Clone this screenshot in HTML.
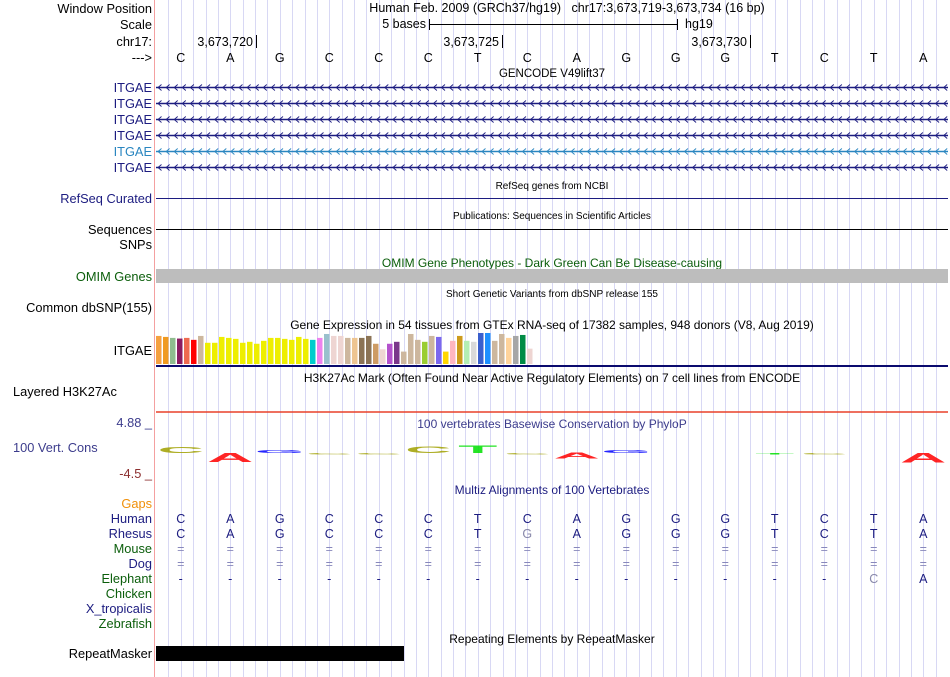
<!DOCTYPE html>
<html><head><meta charset="utf-8"><style>
html,body{margin:0;padding:0;background:#fff;}
svg{display:block;font-family:"Liberation Sans",sans-serif;}
</style></head><body>
<svg id="c" width="950" height="677" viewBox="0 0 950 677" xmlns="http://www.w3.org/2000/svg">
<g id="grid"></g>
<line x1="154.5" y1="0" x2="154.5" y2="677" stroke="#f4a0a0" stroke-width="1"/>
<g id="labels" font-size="12.8" text-anchor="end">
<text x="152" y="13" fill="#000">Window Position</text>
<text x="152" y="29" fill="#000">Scale</text>
<text x="152" y="46" fill="#000">chr17:</text>
<text x="152" y="62" fill="#000">---&gt;</text>
<text x="152" y="92" fill="#1c1c80">ITGAE</text>
<text x="152" y="108" fill="#1c1c80">ITGAE</text>
<text x="152" y="124" fill="#1c1c80">ITGAE</text>
<text x="152" y="140" fill="#1c1c80">ITGAE</text>
<text x="152" y="156" fill="#2a86c0">ITGAE</text>
<text x="152" y="172" fill="#1c1c80">ITGAE</text>
<text x="152" y="203" fill="#1c1c80">RefSeq Curated</text>
<text x="152" y="234" fill="#000">Sequences</text>
<text x="152" y="249" fill="#000">SNPs</text>
<text x="152" y="281" fill="#0b5e0b">OMIM Genes</text>
<text x="152" y="312" fill="#000">Common dbSNP(155)</text>
<text x="152" y="355" fill="#000">ITGAE</text>
<text x="13" y="396" text-anchor="start" fill="#000">Layered H3K27Ac</text>
<text x="152" y="427" fill="#3c3c8c">4.88 _</text>
<text x="13" y="452" text-anchor="start" fill="#3c3c8c">100 Vert. Cons</text>
<text x="152" y="478" fill="#8c2f2f">-4.5 _</text>
<text x="152" y="508" fill="#f0900a">Gaps</text>
<text x="152" y="523" fill="#1c1c80">Human</text>
<text x="152" y="538" fill="#1c1c80">Rhesus</text>
<text x="152" y="553" fill="#0b5e0b">Mouse</text>
<text x="152" y="568" fill="#1c1c80">Dog</text>
<text x="152" y="583" fill="#0b5e0b">Elephant</text>
<text x="152" y="598" fill="#0b5e0b">Chicken</text>
<text x="152" y="613" fill="#1c1c80">X_tropicalis</text>
<text x="152" y="628" fill="#0b5e0b">Zebrafish</text>
<text x="152" y="658" fill="#000">RepeatMasker</text>
</g>
<g font-size="12.5" text-anchor="middle">
<text x="567" y="12" fill="#000">Human Feb. 2009 (GRCh37/hg19)&#160;&#160;&#160;chr17:3,673,719-3,673,734 (16 bp)</text>
<text x="426" y="28" text-anchor="end">5 bases</text>
<line x1="429.5" y1="19" x2="429.5" y2="30" stroke="#000"/>
<line x1="429" y1="24.5" x2="677" y2="24.5" stroke="#000"/>
<line x1="677.5" y1="19" x2="677.5" y2="30" stroke="#000"/>
<text x="685" y="28" text-anchor="start">hg19</text>
<text x="253" y="46" text-anchor="end">3,673,720</text>
<line x1="256.5" y1="35" x2="256.5" y2="48" stroke="#000"/>
<text x="499" y="46" text-anchor="end">3,673,725</text>
<line x1="502.5" y1="35" x2="502.5" y2="48" stroke="#000"/>
<text x="747" y="46" text-anchor="end">3,673,730</text>
<line x1="750.5" y1="35" x2="750.5" y2="48" stroke="#000"/>
</g>
<g id="bases" font-size="12.5" text-anchor="middle"></g>
<g font-size="11.5" text-anchor="middle" fill="#000">
<text x="552" y="77">GENCODE V49lift37</text>
<text x="552" y="189" font-size="10">RefSeq genes from NCBI</text>
<text x="552" y="219" font-size="10">Publications: Sequences in Scientific Articles</text>
<text x="552" y="267" fill="#0b5e0b" font-size="12">OMIM Gene Phenotypes - Dark Green Can Be Disease-causing</text>
<text x="552" y="297" font-size="10">Short Genetic Variants from dbSNP release 155</text>
<text x="552" y="329" font-size="12">Gene Expression in 54 tissues from GTEx RNA-seq of 17382 samples, 948 donors (V8, Aug 2019)</text>
<text x="552" y="382" font-size="12">H3K27Ac Mark (Often Found Near Active Regulatory Elements) on 7 cell lines from ENCODE</text>
<text x="552" y="428" fill="#3c3c8c" font-size="12">100 vertebrates Basewise Conservation by PhyloP</text>
<text x="552" y="494" fill="#1c1c80" font-size="12">Multiz Alignments of 100 Vertebrates</text>
<text x="552" y="643" font-size="12">Repeating Elements by RepeatMasker</text>
</g>
<g id="genes"></g>
<line x1="156" y1="198.5" x2="948" y2="198.5" stroke="#1c1c80"/>
<line x1="156" y1="229.5" x2="948" y2="229.5" stroke="#000"/>
<rect x="156" y="269" width="792" height="14" fill="#bdbdbd"/>
<g id="gtex"></g>
<line x1="156" y1="366" x2="948" y2="366" stroke="#0a0a6e" stroke-width="2"/>
<line x1="156" y1="412" x2="948" y2="412" stroke="#e8402a" stroke-width="1.5"/>
<g id="cons"></g>
<g id="multiz" font-size="12.5" text-anchor="middle"></g>
<rect x="156" y="646" width="248" height="15" fill="#000"/>
<script>
const NS='http://www.w3.org/2000/svg';
const refBases=['C','A','G','C','C','C','T','C','A','G','G','G','T','C','T','A'];
const rhesusBases=['C','A','G','C','C','C','T','G','A','G','G','G','T','C','T','A'];
const elephantBases=['-','-','-','-','-','-','-','-','-','-','-','-','-','-','C','A'];
const phyloP=[1.2,-1.8,0.6,-0.3,-0.2,1.3,1.6,-0.2,-1.1,0.6,0,0,-0.3,-0.2,0,-1.9];
const gtexValues=[86,83,80,78,80,74,86,65,65,83,80,77,65,68,62,71,80,80,77,74,83,77,74,80,92,86,86,80,80,80,86,62,45,62,68,38,92,74,68,86,83,38,71,86,71,68,95,95,71,92,80,86,89,47];
const gtexColors=['#f5a040','#f09a20','#8fbc8f','#8b1c62','#ee6a50','#ff0000','#cdb79e','#eeee00','#eeee00','#eeee00','#eeee00','#eeee00','#eeee00','#eeee00','#eeee00','#eeee00','#eeee00','#eeee00','#eeee00','#eeee00','#eeee00','#eeee00','#00cdcd','#ee82ee','#9ac0cd','#eed5d2','#eed5d2','#cdb79e','#eec591','#8b7355','#8b7355','#cd9b64','#eed5d2','#b452cd','#7a378b','#cdb79e','#cdb79e','#cdb79e','#9acd32','#cdb79e','#7b68ee','#ffd700','#ffb6c1','#cd9b1d','#b4eeb4','#d9d9d9','#3a5fcd','#1e90ff','#cdb79e','#cdb79e','#ffd39b','#a6a6a6','#008b45','#eed5d2','#eed5d2','#ff00ff'];
const X0=156,BW=49.5;
const bx=i=>X0+BW*(i+0.5);
function mk(tag,attrs,parent){const e=document.createElementNS(NS,tag);for(const k in attrs)e.setAttribute(k,attrs[k]);parent.appendChild(e);return e;}
const grid=document.getElementById('grid');
for(let k=1;k<64;k++){const x=Math.round(X0+k*12.375)+0.5;const l=mk('line',{x1:x,y1:0,x2:x,y2:677,stroke:'#d8d8f4'},grid);

}
const bases=document.getElementById('bases');
refBases.forEach((b,i)=>{const t=mk('text',{x:bx(i),y:62},bases);t.textContent=b;

});
const genes=document.getElementById('genes');
[87,103,119,135,151,167].forEach((y,i)=>{const col=i===4?'#2a86c0':'#1c1c80';
const g=mk('g',{},genes);


const yy=y+0.5;
mk('line',{x1:156,y1:yy,x2:948,y2:yy,stroke:col,'stroke-width':1.5},g);
let d='';for(let x=158;x<946;x+=8.1){d+=`M${(x+3.5).toFixed(1)} ${yy-3}L${x.toFixed(1)} ${yy}L${(x+3.5).toFixed(1)} ${yy+3}`;}
mk('path',{d:d,fill:'none',stroke:col,'stroke-width':0.9},g);});
const gtex=document.getElementById('gtex');
const gmax=95, gh=31, base=364;
gtexValues.forEach((v,i)=>{const h=v/gmax*gh;const r=mk('rect',{x:156+i*7,y:base-h,width:5.5,height:h,fill:gtexColors[i]},gtex);

});
const cons=document.getElementById('cons');
const cMid=453, cScale=5;
const colorOf={A:'#ff0000',C:'#a0a000',G:'#0000ff',T:'#00e000'};
refBases.forEach((b,i)=>{const v=phyloP[i];if(v===0)return;
const h=Math.max(1.5,Math.abs(v)*cScale);const y=v>0?cMid-h:cMid;
const g=mk('g',{},cons);


const t=mk('text',{x:0,y:0,'font-size':20,'font-weight':'bold','text-anchor':'middle',fill:colorOf[b],opacity:0.85,
transform:`translate(${bx(i)},${y+h}) scale(3.2,${h/14})`},g);t.textContent=b;});
const mz=document.getElementById('multiz');
function row(arr,y,col,name){arr.forEach((b,i)=>{const t=mk('text',{x:bx(i),y:y,fill:(name==='rhesus'&&b!==refBases[i])||(name==='elephant'&&b!=='-'&&b!==refBases[i])?'#8888aa':col},mz);t.textContent=b;

});}
row(refBases,523,'#1c1c80','human');
row(rhesusBases,538,'#1c1c80','rhesus');
row(refBases.map(()=>'='),553,'#8888bb','mouse');
row(refBases.map(()=>'='),568,'#8888bb','dog');
row(elephantBases,583,'#1c1c80','elephant');
</script>
</svg>
</body></html>
